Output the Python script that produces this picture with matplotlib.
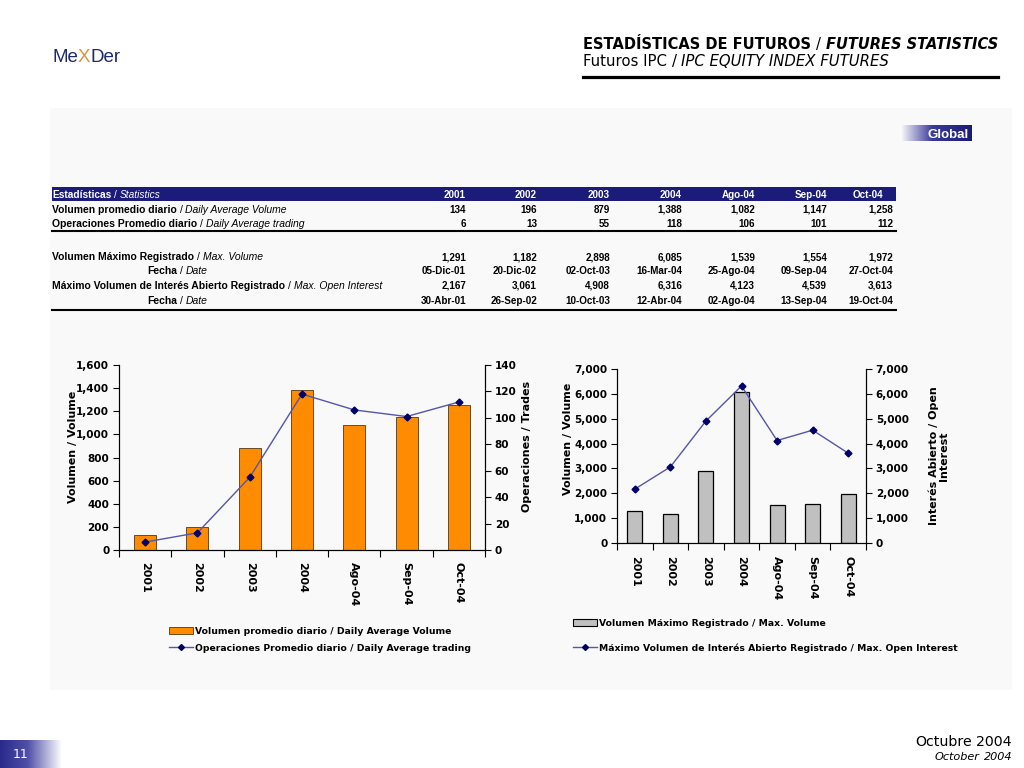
import matplotlib
matplotlib.use('Agg')
import matplotlib.pyplot as plt
import numpy as np
from matplotlib import font_manager as fm
from matplotlib.patches import Rectangle, Patch
from matplotlib.lines import Line2D
from matplotlib.colors import LinearSegmentedColormap

# ---------------- data ----------------
periods = ['2001', '2002', '2003', '2004', 'Ago-04', 'Sep-04', 'Oct-04']
avg_volume = [134, 196, 879, 1388, 1082, 1147, 1258]
avg_trades = [6, 13, 55, 118, 106, 101, 112]
max_volume = [1291, 1182, 2898, 6085, 1539, 1554, 1972]
max_volume_date = ['05-Dic-01', '20-Dic-02', '02-Oct-03', '16-Mar-04', '25-Ago-04', '09-Sep-04', '27-Oct-04']
max_open_interest = [2167, 3061, 4908, 6316, 4123, 4539, 3613]
max_oi_date = ['30-Abr-01', '26-Sep-02', '10-Oct-03', '12-Abr-04', '02-Ago-04', '13-Sep-04', '19-Oct-04']

left_ticks = [0, 200, 400, 600, 800, 1000, 1200, 1400, 1600]
left_ticks_r = [0, 20, 40, 60, 80, 100, 120, 140]
right_ticks = [0, 1000, 2000, 3000, 4000, 5000, 6000, 7000]


def has_font(name):
    try:
        fm.findfont(fm.FontProperties(family=name), fallback_to_default=False)
        return True
    except Exception:
        return False


NARROW = 'Liberation Sans Narrow' if has_font('Liberation Sans Narrow') else 'Liberation Sans'
ARIAL = 'Liberation Sans'
VERD = 'DejaVu Sans'

NAVY = '#1b1b7a'
fig = plt.figure(figsize=(10.24, 7.68), dpi=100)
fig.patch.set_facecolor('white')
renderer = fig.canvas.get_renderer()


def X(px):
    return px / 1024.0


def Y(py):
    return 1 - py / 768.0


def measure(s, **kw):
    t = fig.text(0, 0, s, **kw)
    w = t.get_window_extent(renderer).width
    t.remove()
    return w


def fit_size(s, width, **kw):
    kw = dict(kw)
    kw['fontsize'] = 10
    return 10 * width / measure(s, **kw)


def seq(x, y, parts, ha='left', width=None, size=None, color='black'):
    """parts: list of (text, style dict); joined with a space."""
    def widths(sz):
        ws = []
        for s, st in parts:
            kw = dict(st)
            kw['fontsize'] = sz
            ws.append(measure(s, **kw))
        kw = dict(parts[0][1])
        kw['fontsize'] = sz
        sp = measure('a a', **kw) - measure('aa', **kw)
        return ws, sp
    sz = size if size else 10
    ws, sp = widths(sz)
    total = sum(ws) + sp * (len(parts) - 1)
    if width:
        sz = sz * width / total
        ws, sp = widths(sz)
        total = sum(ws) + sp * (len(parts) - 1)
    if ha == 'left':
        x0 = x
    elif ha == 'right':
        x0 = x - total
    else:
        x0 = x - total / 2
    for (s, st), w in zip(parts, ws):
        kw = dict(st)
        kw['fontsize'] = sz
        fig.text(X(x0), Y(y), s, ha='left', va='baseline', color=color, **kw)
        x0 += w + sp
    return sz


# ---------------- background panel ----------------
fig.patches.append(Rectangle((X(50), Y(690)), X(962), 582 / 768.0, transform=fig.transFigure,
                             facecolor='#f9f9f9', edgecolor='none', zorder=-5))

# ---------------- logo ----------------
LOGO_FS = 13.5
logo_kw = dict(family=NARROW, fontsize=LOGO_FS)
x0 = 52
fig.text(X(x0), Y(62), 'Me', color='#1c2a6b', ha='left', va='baseline', **logo_kw)
fig.text(X(x0 + measure('MeX', **logo_kw) - measure('X', **logo_kw)), Y(62), 'X', color='#d9953e',
         ha='left', va='baseline', **logo_kw)
fig.text(X(x0 + measure('MeXDer', **logo_kw) - measure('Der', **logo_kw)), Y(62), 'Der', color='#1c2a6b',
         ha='left', va='baseline', **logo_kw)

# ---------------- title ----------------
seq(583, 49, [('ESTADÍSTICAS DE FUTUROS', dict(family=VERD, weight='bold')),
              ('/', dict(family=VERD)),
              ('FUTURES STATISTICS', dict(family=VERD, weight='bold', style='italic'))], width=415)
seq(583, 66, [('Futuros IPC', dict(family=VERD)),
              ('/', dict(family=VERD)),
              ('IPC EQUITY INDEX FUTURES', dict(family=VERD, style='italic'))], width=305)
fig.add_artist(Line2D([X(583), X(998)], [Y(77), Y(77)], color='black', lw=2.3, transform=fig.transFigure))

# ---------------- Global badge ----------------
gcmap = LinearSegmentedColormap.from_list('g', [(0, '#ffffff'), (0.45, '#3a3a9a'), (1, NAVY)])
gax = fig.add_axes([X(900), Y(141), X(72), 16 / 768.0])
gax.imshow(np.linspace(0, 1, 200)[None, :], aspect='auto', cmap=gcmap, extent=(0, 1, 0, 1))
gax.set_axis_off()
fig.text(X(969), Y(137.5), 'Global', color='white', family=ARIAL, weight='bold', fontsize=9.5,
         ha='right', va='baseline')

# ---------------- table ----------------
fig.patches.append(Rectangle((X(52), Y(201)), X(844), 14 / 768.0, transform=fig.transFigure,
                             facecolor=NAVY, edgecolor='none', zorder=1))
col_right = [466, 537, 610, 682, 755, 827, 893]
head_right = [466, 537, 610, 682, 755, 827, 883]
num_size = fit_size('02-Oct-03', 45, family=NARROW, weight='bold')
B = dict(family=ARIAL, weight='bold')
N = dict(family=ARIAL)
I = dict(family=ARIAL, style='italic')
lab_size = seq(52, 213, [('Volumen promedio diario', B), ('/', N), ('Daily Average Volume', I)], width=235)
seq(52, 198, [('Estadísticas', dict(family=NARROW, weight='bold')), ('/', dict(family=ARIAL)),
              ('Statistics', dict(family=ARIAL, style='italic'))], width=109, color='white')
seq(52, 227, [('Operaciones Promedio diario', B), ('/', N), ('Daily Average trading', I)], size=lab_size)
seq(52, 260, [('Volumen Máximo Registrado', B), ('/', N), ('Max. Volume', I)], size=lab_size)
seq(177, 274, [('Fecha', B), ('/', N), ('Date', I)], size=lab_size, ha='center')
seq(52, 289, [('Máximo Volumen de Interés Abierto Registrado', B), ('/', N), ('Max. Open Interest', I)],
    size=lab_size)
seq(177, 304, [('Fecha', B), ('/', N), ('Date', I)], size=lab_size, ha='center')

numkw = dict(family=NARROW, weight='bold', fontsize=num_size, ha='right', va='baseline')
for i, p in enumerate(periods):
    fig.text(X(head_right[i]), Y(198), p, color='white', **numkw)
    fig.text(X(col_right[i]), Y(213), f'{avg_volume[i]:,}', **numkw)
    fig.text(X(col_right[i]), Y(227), f'{avg_trades[i]:,}', **numkw)
    fig.text(X(col_right[i]), Y(260), f'{max_volume[i]:,}', **numkw)
    fig.text(X(col_right[i]), Y(274), max_volume_date[i], **numkw)
    fig.text(X(col_right[i]), Y(289), f'{max_open_interest[i]:,}', **numkw)
    fig.text(X(col_right[i]), Y(304), max_oi_date[i], **numkw)
for yy in (231, 310):
    fig.add_artist(Line2D([X(52), X(896)], [Y(yy), Y(yy)], color='black', lw=1.5, transform=fig.transFigure))

# ---------------- chart helpers ----------------
TICK_FS = 7.5
LINE_C = '#5555aa'
MARK_C = '#000066'


def style_axes(ax, n):
    ax.set_facecolor('none')
    ax.set_xlim(-0.5, n - 0.5)
    ax.set_xticks(np.arange(-0.5, n, 1.0))
    ax.set_xticklabels([])
    ax.set_xticks(np.arange(n), minor=True)
    ax.set_xticklabels(periods, minor=True, rotation=-90, fontsize=8, weight='bold', family=VERD)
    ax.tick_params(axis='x', which='major', length=5, direction='out', width=0.8)
    ax.tick_params(axis='x', which='minor', length=0, pad=9)
    ax.tick_params(axis='y', length=4, direction='out', width=0.8, labelsize=TICK_FS, pad=3)
    for lab in ax.get_yticklabels():
        lab.set_fontweight('bold')
    ax.spines['top'].set_visible(False)
    for s in ('left', 'bottom', 'right'):
        ax.spines[s].set_linewidth(0.8)


xs = np.arange(len(periods))

# ---------------- left chart ----------------
ax1 = fig.add_axes([X(119), Y(550), X(366), 185 / 768.0])
ax1.bar(xs, avg_volume, width=0.42, color='#ff8c00', edgecolor='#6a4a20', linewidth=0.7, zorder=2)
ax1.set_ylim(0, 1600)
ax1.set_yticks(left_ticks)
ax1.set_yticklabels([f'{v:,}' for v in left_ticks])
style_axes(ax1, len(periods))
ax1.set_ylabel('Volumen / Volume', fontsize=8, weight='bold', family=VERD)
ax1.yaxis.set_label_coords(-0.112, 0.56)
ax2 = ax1.twinx()
ax2.plot(xs, avg_trades, color=LINE_C, lw=1, marker='D', ms=3.5, mfc=MARK_C, mec=MARK_C, zorder=3)
ax2.set_ylim(0, 140)
ax2.set_yticks(left_ticks_r)
ax2.tick_params(axis='y', length=4, direction='out', width=0.8, labelsize=TICK_FS, pad=3)
for lab in ax2.get_yticklabels():
    lab.set_fontweight('bold')
ax2.spines['top'].set_visible(False)
ax2.spines['right'].set_linewidth(0.8)
ax2.set_ylabel('Operaciones / Trades', fontsize=8, weight='bold', family=VERD)
ax2.yaxis.set_label_coords(1.10, 0.56)

# ---------------- right chart ----------------
ax3 = fig.add_axes([X(617), Y(543), X(249), 174 / 768.0])
ax3.bar(xs, max_volume, width=0.42, color='#c0c0c0', edgecolor='black', linewidth=0.9, zorder=2)
ax3.set_ylim(0, 7000)
ax3.set_yticks(right_ticks)
ax3.set_yticklabels([f'{v:,}' for v in right_ticks])
style_axes(ax3, len(periods))
ax3.set_ylabel('Volumen / Volume', fontsize=8, weight='bold', family=VERD)
ax3.yaxis.set_label_coords(-0.176, 0.6)
ax4 = ax3.twinx()
ax4.plot(xs, max_open_interest, color=LINE_C, lw=1, marker='D', ms=3.5, mfc=MARK_C, mec=MARK_C, zorder=3)
ax4.set_ylim(0, 7000)
ax4.set_yticks(right_ticks)
ax4.set_yticklabels([f'{v:,}' for v in right_ticks])
ax4.tick_params(axis='y', length=4, direction='out', width=0.8, labelsize=TICK_FS, pad=3)
for lab in ax4.get_yticklabels():
    lab.set_fontweight('bold')
ax4.spines['top'].set_visible(False)
ax4.spines['right'].set_linewidth(0.8)
ax4.set_ylabel('Interés Abierto / Open\nInterest', fontsize=8, weight='bold', family=VERD, linespacing=1.0)
ax4.yaxis.set_label_coords(1.25, 0.5)

# ---------------- legends ----------------
leg_fs = fit_size('Operaciones Promedio diario / Daily Average trading', 275, family=VERD, weight='bold')
prop = dict(family=VERD, weight='bold', size=leg_fs)
h1 = [Patch(facecolor='#ff8c00', edgecolor='#6a4a20', lw=0.7),
      Line2D([], [], color=LINE_C, lw=1, marker='D', ms=3, mfc=MARK_C, mec=MARK_C)]
fig.legend(h1, ['Volumen promedio diario / Daily Average Volume',
                'Operaciones Promedio diario / Daily Average trading'],
           loc='upper left', bbox_to_anchor=(X(164), Y(622)), frameon=False, prop=prop,
           handlelength=2.6, handleheight=0.9, handletextpad=0.3, labelspacing=0.85, borderpad=0)
h2 = [Patch(facecolor='#c0c0c0', edgecolor='black', lw=0.8),
      Line2D([], [], color=LINE_C, lw=1, marker='D', ms=3, mfc=MARK_C, mec=MARK_C)]
fig.legend(h2, ['Volumen Máximo Registrado / Max. Volume',
                'Máximo Volumen de Interés Abierto Registrado / Max. Open Interest'],
           loc='upper left', bbox_to_anchor=(X(568), Y(614)), frameon=False, prop=prop,
           handlelength=2.6, handleheight=0.9, handletextpad=0.3, labelspacing=1.7, borderpad=0)

# ---------------- footer ----------------
seq(1012, 746, [('Octubre', dict(family=VERD)), ('2004', dict(family=VERD))], ha='right', width=97)
seq(1012, 760, [('October', dict(family=VERD, style='italic')), ('2004', dict(family=VERD, style='italic'))],
    ha='right', width=77)
pcmap = LinearSegmentedColormap.from_list('p', [(0, '#2a2a8c'), (0.45, '#5050a8'), (1, '#ffffff')])
pax = fig.add_axes([0, 0, X(62), 28 / 768.0])
pax.imshow(np.linspace(0, 1, 200)[None, :], aspect='auto', cmap=pcmap, extent=(0, 1, 0, 1))
pax.set_axis_off()
fig.text(X(13), Y(758), '11', color='white', family=VERD, fontsize=9, ha='left', va='baseline')

fig.savefig('out.png', dpi=100)
